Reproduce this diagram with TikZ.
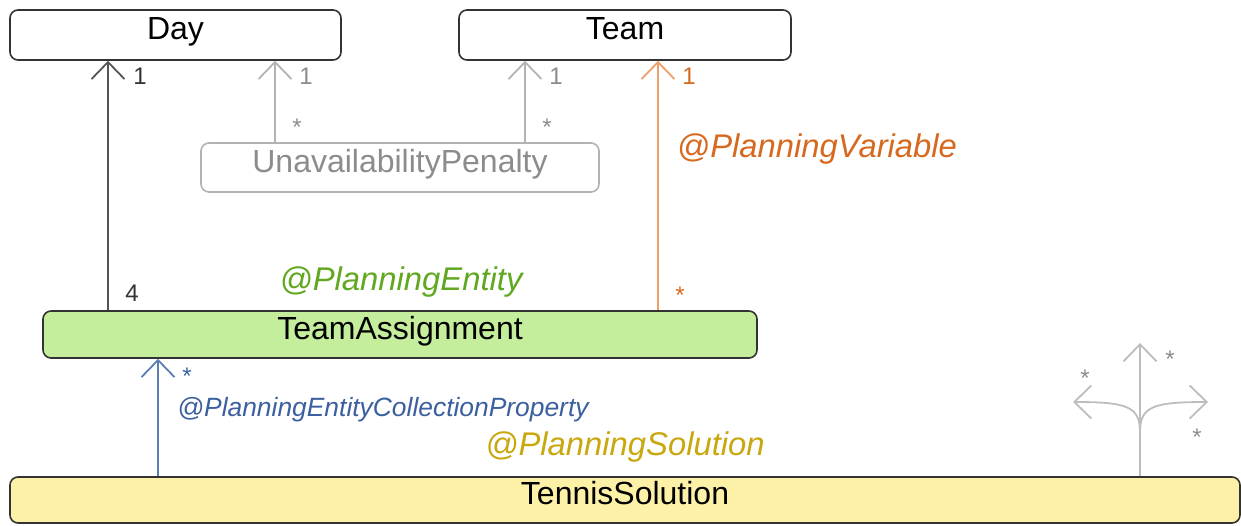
\documentclass[tikz,border=0pt]{standalone}
\usepackage{fontspec}
\setmainfont{Liberation Sans}
\usepackage{tikz}
\usepackage{xcolor}
\usetikzlibrary{arrows.meta, positioning, calc}
\definecolor{Plan_Frame}{HTML}{333333}
\definecolor{Plan_Dark}{HTML}{555555}
\definecolor{Plan_Grey}{HTML}{B3B3B3}
\definecolor{Plan_GreyText}{HTML}{8C8C8C}
\definecolor{Plan_Orange}{HTML}{EDA06A}
\definecolor{Plan_OrangeText}{HTML}{D6691F}
\definecolor{Plan_Green}{HTML}{C4EE9C}
\definecolor{Plan_GreenText}{HTML}{5FA81F}
\definecolor{Plan_Blue}{HTML}{5B7FB5}
\definecolor{Plan_BlueText}{HTML}{3B5F9F}
\definecolor{Plan_Yellow}{HTML}{FCF1A6}
\definecolor{Plan_GoldText}{HTML}{C9A70E}
\definecolor{Plan_Fork}{HTML}{BDBDBD}
\begin{document}
\begin{tikzpicture}[x=0.5pt, y=-0.5pt,
    classbox/.style={draw=Plan_Frame, line width=0.8pt, rounded corners=4pt, fill=white,
        inner sep=0pt, font=\fontsize{16}{18}\selectfont, text height=0.75em, text depth=0.3em},
    assoc/.style={line width=0.9pt, -{Straight Barb[length=8.5pt, width=16.5pt]}},
    mult/.style={font=\fontsize{12}{14}\selectfont},
    annot/.style={font=\fontsize{16.4}{18}\selectfont\itshape}]
    \useasboundingbox (0,0) rectangle (1241,525);
    % classes
    \node[classbox, minimum width=165.5pt, minimum height=25pt] (day) at (175.5,35) {Day};
    \node[classbox, minimum width=166pt, minimum height=25pt] (team) at (625,35) {Team};
    \node[classbox, draw=Plan_Grey, text=Plan_GreyText, minimum width=199pt, minimum height=24.5pt] (penalty) at (400,167.5) {UnavailabilityPenalty};
    \node[classbox, fill=Plan_Green, minimum width=357pt, minimum height=23.5pt] (assign) at (400,334.5) {TeamAssignment};
    \node[classbox, fill=Plan_Yellow, minimum width=615pt, minimum height=23pt] (solution) at (625,500) {TennisSolution};
    % arrow columns
    \coordinate (dayx) at (108,0);
    \coordinate (pdayx) at (275,0);
    \coordinate (pteamx) at (525,0);
    \coordinate (teamx) at (658,0);
    \coordinate (entx) at (158,0);
    \coordinate (forkx) at (1140,0);
    \draw[assoc, Plan_Dark] (assign.north -| dayx) -- (day.south -| dayx);
    \draw[assoc, Plan_Grey] (penalty.north -| pdayx) -- (day.south -| pdayx);
    \draw[assoc, Plan_Grey] (penalty.north -| pteamx) -- (team.south -| pteamx);
    \draw[assoc, Plan_Orange] (assign.north -| teamx) -- (team.south -| teamx);
    \draw[assoc, Plan_Blue] (solution.north -| entx) -- (assign.south -| entx);
    % multiplicities
    \node[mult, text=Plan_Frame] (dayone) at (140,76) {1};
    \node[mult, text=Plan_Frame] (dayfour) at (132,293) {4};
    \node[mult, text=Plan_GreyText] (pdayone) at (306,76) {1};
    \node[mult, text=Plan_GreyText] (pdaystar) at (297,127) {*};
    \node[mult, text=Plan_GreyText] (pteamone) at (556,76) {1};
    \node[mult, text=Plan_GreyText] (pteamstar) at (547,127) {*};
    \node[mult, text=Plan_OrangeText] (teamone) at (689,76) {1};
    \node[mult, text=Plan_OrangeText] (teamstar) at (680,295) {*};
    \node[mult, text=Plan_BlueText] (entstar) at (187,376) {*};
    % annotations
    \node[annot, text=Plan_OrangeText] (varlabel) at (817,149) {@PlanningVariable};
    \node[annot, text=Plan_GreenText] (entlabel) at (401,282) {@PlanningEntity};
    \node[font=\fontsize{13.2}{15}\selectfont\itshape, text=Plan_BlueText] (collabel) at (383,410) {@PlanningEntityCollectionProperty};
    \node[annot, text=Plan_GoldText] (sollabel) at (625,447) {@PlanningSolution};
    % fork icon
    \coordinate (forkmid) at (1140,432);
    \coordinate (forktop) at (1140,343);
    \coordinate (forkleft) at (1073,402);
    \coordinate (forkright) at (1208,402);
    \draw[assoc, Plan_Fork] (solution.north -| forkx) -- (forktop);
    \draw[assoc, Plan_Fork] (forkmid) .. controls (1140,406) and (1126,402) .. (forkleft);
    \draw[assoc, Plan_Fork] (forkmid) .. controls (1140,406) and (1154,402) .. (forkright);
    \node[mult, text=Plan_GreyText] (forkstarup) at (1170,359) {*};
    \node[mult, text=Plan_GreyText] (forkstarleft) at (1085,378) {*};
    \node[mult, text=Plan_GreyText] (forkstarright) at (1197,437) {*};
\end{tikzpicture}
\end{document}
